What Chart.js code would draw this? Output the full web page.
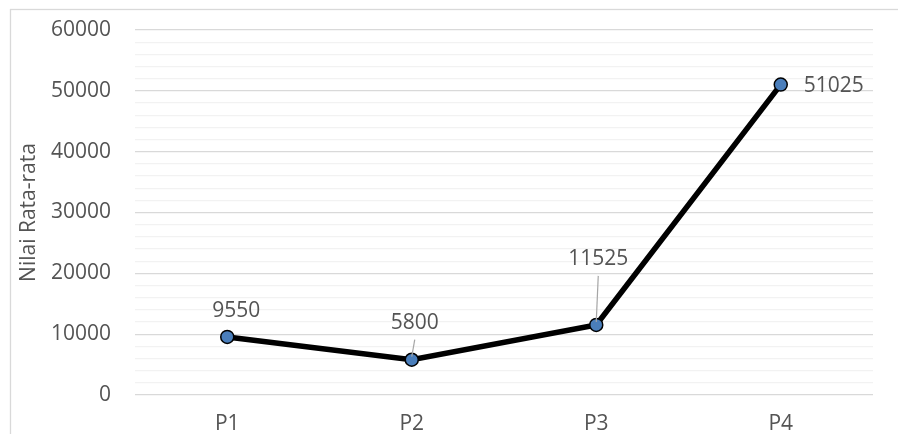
<!DOCTYPE html>
<html>
<head>
<meta charset="utf-8">
<script src="https://cdn.jsdelivr.net/npm/chart.js@4.4.0/dist/chart.umd.min.js"></script>
<style>
  html, body { margin: 0; padding: 0; background: #fff; }
  #wrap { width: 898px; height: 434px; }
</style>
</head>
<body>
<div id="wrap"><canvas id="myChart" width="898" height="434"></canvas></div>
<script>
// values per period
const periods = ['P1', 'P2', 'P3', 'P4'];
const averages = [9550, 5800, 11525, 51025];
const yTicksMajor = [0, 10000, 20000, 30000, 40000, 50000, 60000];

// where each value label sits relative to its point: [dx, dy, align, leader]
const labelPlacement = [
    [9, -26, 'center', false],
    [3, -37, 'center', true],
    [2, -66, 'center', true],
    [23, 1, 'left', false]
];

const FONT = '"Open Sans", "DejaVu Sans", sans-serif';
const GREY_TEXT = '#545454';

// outer chart frame
const frame = {
    id: 'frame',
    beforeDraw(chart) {
        const c = chart.ctx;
        c.save();
        c.fillStyle = '#fff';
        c.fillRect(0, 0, chart.width, chart.height);
        c.strokeStyle = '#d9d9d9';
        c.lineWidth = 1.3;
        c.strokeRect(10.5, 9.5, chart.width + 20, chart.height + 20);
        c.restore();
    }
};

// value labels with leader lines
const valueLabels = {
    id: 'valueLabels',
    afterDatasetsDraw(chart) {
        const c = chart.ctx;
        const meta = chart.getDatasetMeta(0);
        c.save();
        c.font = '21px ' + FONT;
        c.fillStyle = GREY_TEXT;
        c.textBaseline = 'middle';
        meta.data.forEach((pt, i) => {
            const [dx, dy, align, leader] = labelPlacement[i];
            const lx = pt.x + dx;
            const ly = pt.y + dy;
            c.textAlign = align;
            c.fillText(String(averages[i]), lx, ly);
            if (leader) {
                c.strokeStyle = '#a6a6a6';
                c.lineWidth = 1.2;
                c.beginPath();
                c.moveTo(lx, ly + 17);
                c.lineTo(pt.x, pt.y - 3);
                c.stroke();
            }
        });
        c.restore();
    }
};

var ctx = document.getElementById('myChart').getContext('2d');

var myChart = new Chart(ctx, {
    type: 'line',
    data: {
        labels: periods,
        datasets: [
            {
                label: 'Nilai Rata-rata',
                data: averages,
                borderColor: '#000000',
                borderWidth: 5.5,
                backgroundColor: '#4a7ebb',
                pointBackgroundColor: '#4a7ebb',
                pointBorderColor: '#000000',
                pointBorderWidth: 1.5,
                pointRadius: 6.5,
                fill: false,
                tension: 0
            }
        ]
    },
    options: {
        responsive: false,
        animation: false,
        devicePixelRatio: 1,
        layout: {
            padding: { top: 0, right: 25, left: 0, bottom: 0 }
        },
        plugins: {
            legend: { display: false },
            tooltip: { enabled: false }
        },
        scales: {
            x: {
                offset: true,
                afterFit: function (scale) { scale.height = 39; },
                grid: { display: false, drawTicks: false },
                border: { display: false },
                ticks: {
                    color: GREY_TEXT,
                    padding: 16,
                    font: { size: 21, family: FONT }
                }
            },
            y: {
                min: 0,
                max: 60000,
                afterFit: function (scale) {
                    scale.width = 135;
                    // keep the plot top fixed instead of the label-based padding
                    scale.paddingTop = 30;
                    scale.paddingBottom = 0;
                },
                afterBuildTicks: function (scale) {
                    // minor steps every 2000 so the lighter lines get drawn
                    const t = [];
                    for (let v = 0; v <= 60000; v += 2000) t.push({ value: v });
                    scale.ticks = t;
                },
                border: { display: false },
                grid: {
                    drawTicks: false,
                    lineWidth: 1.3,
                    color: function (c) {
                        return yTicksMajor.includes(c.tick.value) ? '#d9d9d9' : '#f2f2f2';
                    }
                },
                ticks: {
                    autoSkip: false,
                    padding: 24,
                    color: GREY_TEXT,
                    font: { size: 21, family: FONT },
                    callback: function (val) {
                        return yTicksMajor.includes(val) ? String(val) : '';
                    }
                },
                title: {
                    display: true,
                    text: 'Nilai Rata-rata',
                    color: GREY_TEXT,
                    padding: { top: 16, bottom: 0 },
                    font: { size: 21, family: FONT }
                }
            }
        }
    },
    plugins: [frame, valueLabels]
});
</script>
</body>
</html>
